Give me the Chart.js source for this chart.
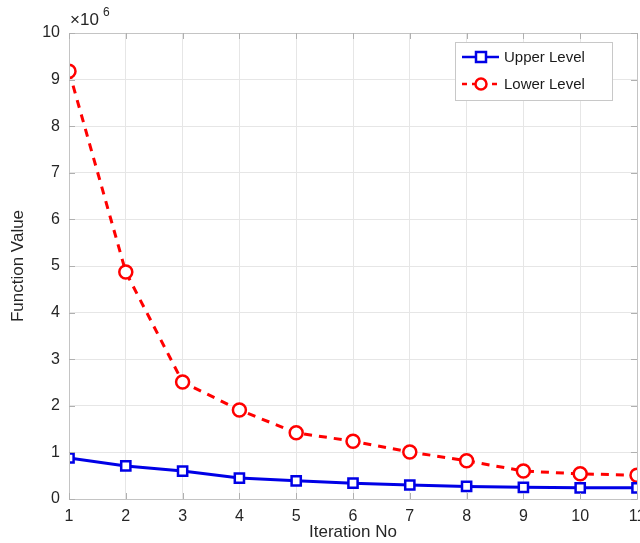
<!DOCTYPE html>
<html>
<head>
<meta charset="utf-8">
<script src="https://cdn.jsdelivr.net/npm/chart.js@4/dist/chart.umd.min.js"></script>
<style>
  html, body { margin: 0; padding: 0; background: #fff; overflow: hidden; }
  #chart { display: block; }
</style>
</head>
<body>
<canvas id="chart" width="660" height="543"></canvas>
<script>
// données (unité : 10^6)
const iterations = [1, 2, 3, 4, 5, 6, 7, 8, 9, 10, 11];
const upperLevel = [0.88, 0.71, 0.60, 0.45, 0.39, 0.34, 0.30, 0.27, 0.25, 0.24, 0.24];
const lowerLevel = [9.18, 4.87, 2.51, 1.91, 1.42, 1.24, 1.01, 0.82, 0.60, 0.54, 0.51];
const yTicks = [0, 1, 2, 3, 4, 5, 6, 7, 8, 9, 10];
const seriesNames = ['Upper Level', 'Lower Level'];

const FONT = '"Liberation Sans", Arial, Helvetica, sans-serif';
const BLUE = '#0000e6';
const RED = '#ff0000';

// titre d'échelle, cadre, petites graduations et légende façon MATLAB
const matlabDecor = {
    id: 'matlabDecor',
    afterDraw(chart) {
        const ctx = chart.ctx;
        const a = chart.chartArea;
        const xs = chart.scales.x;
        const ys = chart.scales.y;
        ctx.save();

        // cadre
        ctx.strokeStyle = '#c4c4c4';
        ctx.lineWidth = 1;
        ctx.strokeRect(a.left + 0.5, a.top + 0.5, a.right - a.left, a.bottom - a.top);

        // graduations intérieures
        ctx.strokeStyle = '#b0b0b0';
        ctx.beginPath();
        iterations.forEach(v => {
            const px = Math.round(xs.getPixelForValue(v)) + 0.5;
            ctx.moveTo(px, a.bottom); ctx.lineTo(px, a.bottom - 6);
            ctx.moveTo(px, a.top); ctx.lineTo(px, a.top + 6);
        });
        yTicks.forEach(v => {
            const py = Math.round(ys.getPixelForValue(v)) + 0.5;
            ctx.moveTo(a.left, py); ctx.lineTo(a.left + 6, py);
            ctx.moveTo(a.right, py); ctx.lineTo(a.right - 6, py);
        });
        ctx.stroke();

        // x10^6
        ctx.fillStyle = '#262626';
        ctx.textBaseline = 'alphabetic';
        ctx.textAlign = 'left';
        ctx.font = '17px ' + FONT;
        ctx.fillText('\u00d710', a.left + 1, a.top - 8);
        ctx.font = '12px ' + FONT;
        ctx.fillText('6', a.left + 34, a.top - 17);

        // légende
        const lx = 455, ly = 42, lw = 157, lh = 58;
        ctx.fillStyle = '#fff';
        ctx.fillRect(lx, ly, lw, lh);
        ctx.strokeStyle = '#c8c8c8';
        ctx.strokeRect(lx + 0.5, ly + 0.5, lw, lh);

        const rows = [
            { y: ly + 15, color: BLUE, dash: [], marker: 'square' },
            { y: ly + 42, color: RED, dash: [5, 5], marker: 'circle' }
        ];
        rows.forEach((r, i) => {
            ctx.strokeStyle = r.color;
            ctx.lineWidth = 2.5;
            ctx.setLineDash(r.dash);
            ctx.beginPath();
            ctx.moveTo(lx + 7, r.y);
            ctx.lineTo(lx + 44, r.y);
            ctx.stroke();
            ctx.setLineDash([]);
            ctx.fillStyle = '#fff';
            ctx.lineWidth = 2.5;
            ctx.beginPath();
            if (r.marker === 'square') {
                ctx.rect(lx + 21, r.y - 5, 10, 10);
            } else {
                ctx.arc(lx + 26, r.y, 5.5, 0, Math.PI * 2);
            }
            ctx.fill();
            ctx.stroke();
            ctx.fillStyle = '#1a1a1a';
            ctx.font = '15px ' + FONT;
            ctx.textBaseline = 'middle';
            ctx.fillText(seriesNames[i], lx + 49, r.y + 1);
        });
        ctx.restore();
    }
};

new Chart(document.getElementById('chart'), {
    type: 'line',
    data: {
        datasets: [
            {
                label: seriesNames[0],
                data: iterations.map((x, i) => ({ x: x, y: upperLevel[i] })),
                borderColor: BLUE,
                backgroundColor: '#fff',
                borderWidth: 3,
                pointStyle: 'rect',
                pointRadius: 6.5,
                pointBorderWidth: 2.5,
                pointBorderColor: BLUE,
                pointBackgroundColor: '#fff',
                tension: 0
            },
            {
                label: seriesNames[1],
                data: iterations.map((x, i) => ({ x: x, y: lowerLevel[i] })),
                borderColor: RED,
                backgroundColor: '#fff',
                borderWidth: 3,
                borderDash: [8, 7],
                pointStyle: 'circle',
                pointRadius: 6.5,
                pointBorderWidth: 2.5,
                pointBorderColor: RED,
                pointBackgroundColor: '#fff',
                tension: 0
            }
        ]
    },
    options: {
        responsive: false,
        animation: false,
        layout: { padding: { top: 33, left: 0, right: 23, bottom: 0 } },
        plugins: {
            legend: { display: false },
            tooltip: { enabled: false }
        },
        scales: {
            x: {
                type: 'linear',
                min: 1,
                max: 11,
                afterFit: (scale) => { scale.height = 44; },
                afterBuildTicks: (scale) => { scale.ticks = iterations.map(v => ({ value: v })); },
                grid: { color: '#e6e6e6', drawTicks: false },
                border: { display: false },
                ticks: {
                    color: '#262626',
                    font: { family: FONT, size: 16 },
                    padding: 8,
                    maxRotation: 0
                },
                title: {
                    display: true,
                    text: 'Iteration No',
                    color: '#262626',
                    font: { family: FONT, size: 17 },
                    padding: { top: 0, bottom: 0 }
                }
            },
            y: {
                min: 0,
                max: 10,
                afterFit: (scale) => { scale.width = 69; },
                afterBuildTicks: (scale) => { scale.ticks = yTicks.map(v => ({ value: v })); },
                grid: { color: '#e6e6e6', drawTicks: false },
                border: { display: false },
                ticks: {
                    color: '#262626',
                    font: { family: FONT, size: 16 },
                    padding: 9
                },
                title: {
                    display: true,
                    text: 'Function Value',
                    color: '#262626',
                    font: { family: FONT, size: 17 },
                    padding: { top: 8, bottom: 0 }
                }
            }
        }
    },
    plugins: [matlabDecor]
});
</script>
</body>
</html>
